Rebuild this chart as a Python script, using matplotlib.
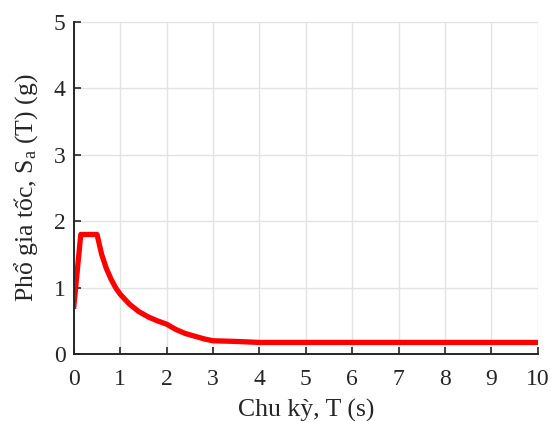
import matplotlib
matplotlib.use("Agg")
import matplotlib.pyplot as plt

# Phổ phản ứng gia tốc: chu kỳ T (s) và Sa (g)
period_T = [0.0, 0.15, 0.5, 0.6, 0.7, 0.8, 0.9, 1.0, 1.2, 1.4, 1.6, 1.8, 2.0,
            2.2, 2.4, 2.6, 2.8, 3.0, 3.5, 4.0, 10.0]
accel_Sa = [0.72, 1.8, 1.8, 1.5, 1.29, 1.13, 1.0, 0.9, 0.75, 0.64, 0.56, 0.5, 0.45,
            0.37, 0.31, 0.27, 0.23, 0.2, 0.19, 0.175, 0.175]

x_ticks = list(range(0, 11))
y_ticks = list(range(0, 6))

plt.rcParams['font.family'] = ['Liberation Serif', 'DejaVu Serif']
plt.rcParams['mathtext.fontset'] = 'custom'
plt.rcParams['mathtext.rm'] = 'Liberation Serif'
plt.rcParams['mathtext.it'] = 'Liberation Serif'

fig = plt.figure(figsize=(5.51, 4.21), dpi=100)
ax = fig.add_axes([0.134, 0.159, 0.842, 0.789])

ax.plot(period_T, accel_Sa, color='#ff0000', lw=3.8, solid_joinstyle='round')

ax.set_xlim(0, 10)
ax.set_ylim(0, 5)
ax.set_xticks(x_ticks)
ax.set_yticks(y_ticks)
ax.grid(True, color='#e3e3e3', lw=1.0)
ax.set_axisbelow(True)

for side in ['top', 'right']:
    ax.spines[side].set_visible(False)
for side in ['left', 'bottom']:
    ax.spines[side].set_linewidth(1.4)
    ax.spines[side].set_color('#262626')

ax.tick_params(direction='in', length=5, width=1.2, colors='#262626', labelsize=17)
ax.tick_params(axis='x', pad=11)
ax.tick_params(axis='y', pad=6)

ax.set_xlabel('Chu kỳ, T (s)', fontsize=18.5, color='#262626', labelpad=6)
ax.set_ylabel('Phổ gia tốc, S$_{\\rm a}$ (T) (g)', fontsize=18.5, color='#262626', labelpad=10)

fig.savefig('out.png', dpi=100)
